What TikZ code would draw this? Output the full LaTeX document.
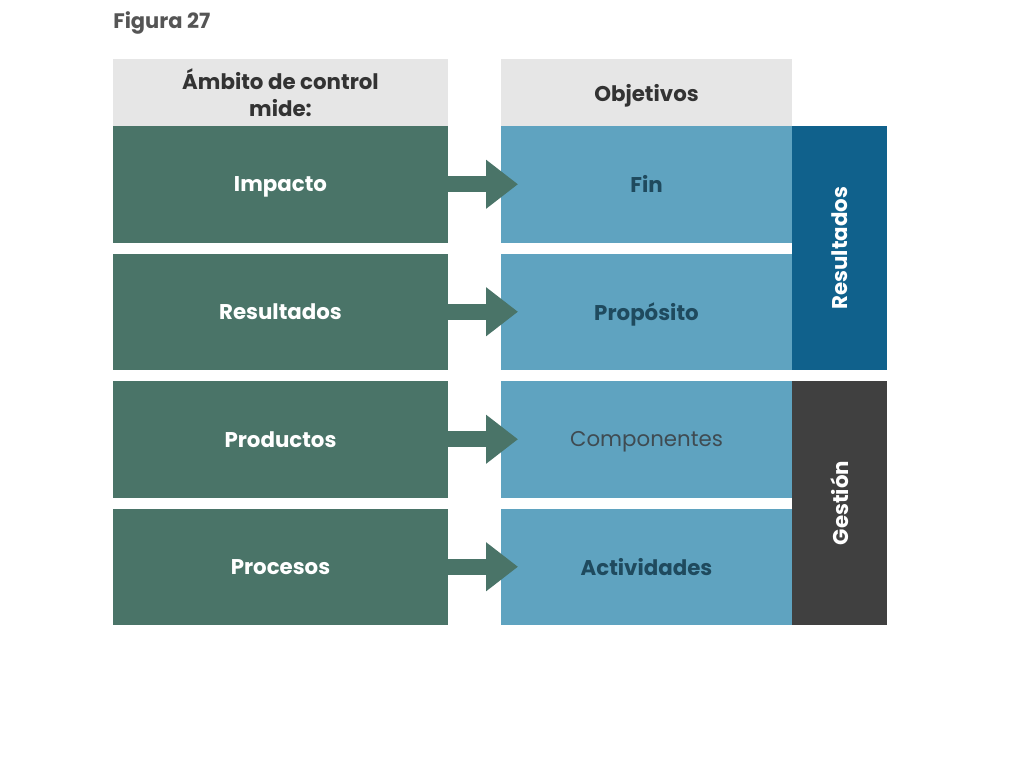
\documentclass[tikz,border=0pt]{standalone}
\usepackage{fontspec}
\setmainfont{Poppins}
\usetikzlibrary{positioning,arrows.meta}
\definecolor{cabecera}{HTML}{E6E6E6}
\definecolor{verde}{HTML}{4A7468}
\definecolor{azul}{HTML}{5FA3C0}
\definecolor{azulOsc}{HTML}{10618C}
\definecolor{grisOsc}{HTML}{404040}
\definecolor{azulTexto}{HTML}{1F4A5E}
\definecolor{grisTexto}{HTML}{3F4B52}
\definecolor{titulo}{HTML}{555555}
\definecolor{textoHead}{HTML}{333333}
\tikzset{
  BoxStyle/.style={rectangle,inner sep=0pt,outer sep=0pt,align=center,text depth=0pt,
    font=\bfseries\fontsize{16}{20}\selectfont},
  HeadStyle/.style={BoxStyle,fill=cabecera,text=textoHead,minimum width=#1,minimum height=50.25pt},
  MideStyle/.style={BoxStyle,fill=verde,text=white,minimum width=251.25pt,minimum height=87.375pt},
  ObjStyle/.style={BoxStyle,fill=azul,text=azulTexto,minimum width=218.25pt,minimum height=87.375pt},
  BarStyle/.style={BoxStyle,text=white,minimum width=71.25pt,minimum height=183pt,anchor=north west},
  FlechaStyle/.style={draw=verde,line width=12pt,-{Triangle[length=24pt,width=35.25pt]}}
}
\begin{document}
\begin{tikzpicture}[x=0.75pt,y=-0.75pt,node distance=8.25pt]
\useasboundingbox[fill=white] (0,0) rectangle (1024,768);
\node[anchor=base west,inner sep=0pt,text=titulo,font=\bfseries\fontsize{15.75}{18}\selectfont] (Tit) at (113,28) {Figura 27};
\node[HeadStyle=251.25pt,anchor=north west] (HdrM) at (113,59) {Ámbito de control\\mide:};
\node[MideStyle,below=0pt of HdrM] (Imp) {Impacto};
\node[MideStyle,below=of Imp] (Res) {Resultados};
\node[MideStyle,below=of Res] (Prod) {Productos};
\node[MideStyle,below=of Prod] (Proc) {Procesos};
\node[HeadStyle=218.25pt,anchor=north west] (HdrO) at (501,59) {Objetivos};
\node[ObjStyle,below=0pt of HdrO] (Fin) {Fin};
\node[ObjStyle,below=of Fin] (Prop) {Propósito};
\node[ObjStyle,below=of Prop,text=grisTexto,font=\mdseries\fontsize{16}{20}\selectfont] (Comp) {Componentes};
\node[ObjStyle,below=of Comp] (Act) {Actividades};
\node[BarStyle,fill=azulOsc] (BarRes) at (Fin.north east) {};
\node[rotate=90,text=white,font=\bfseries\fontsize{16}{20}\selectfont] (TxtRes) at (BarRes.center) {Resultados};
\node[BarStyle,fill=grisOsc] (BarGes) at (Comp.north east) {};
\node[rotate=90,text=white,font=\bfseries\fontsize{16}{20}\selectfont] (TxtGes) at (BarGes.center) {Gestión};
\draw[FlechaStyle] (Imp.east) -- ([xshift=12.75pt]Fin.west);
\draw[FlechaStyle] (Res.east) -- ([xshift=12.75pt]Prop.west);
\draw[FlechaStyle] (Prod.east) -- ([xshift=12.75pt]Comp.west);
\draw[FlechaStyle] (Proc.east) -- ([xshift=12.75pt]Act.west);
\end{tikzpicture}
\end{document}
